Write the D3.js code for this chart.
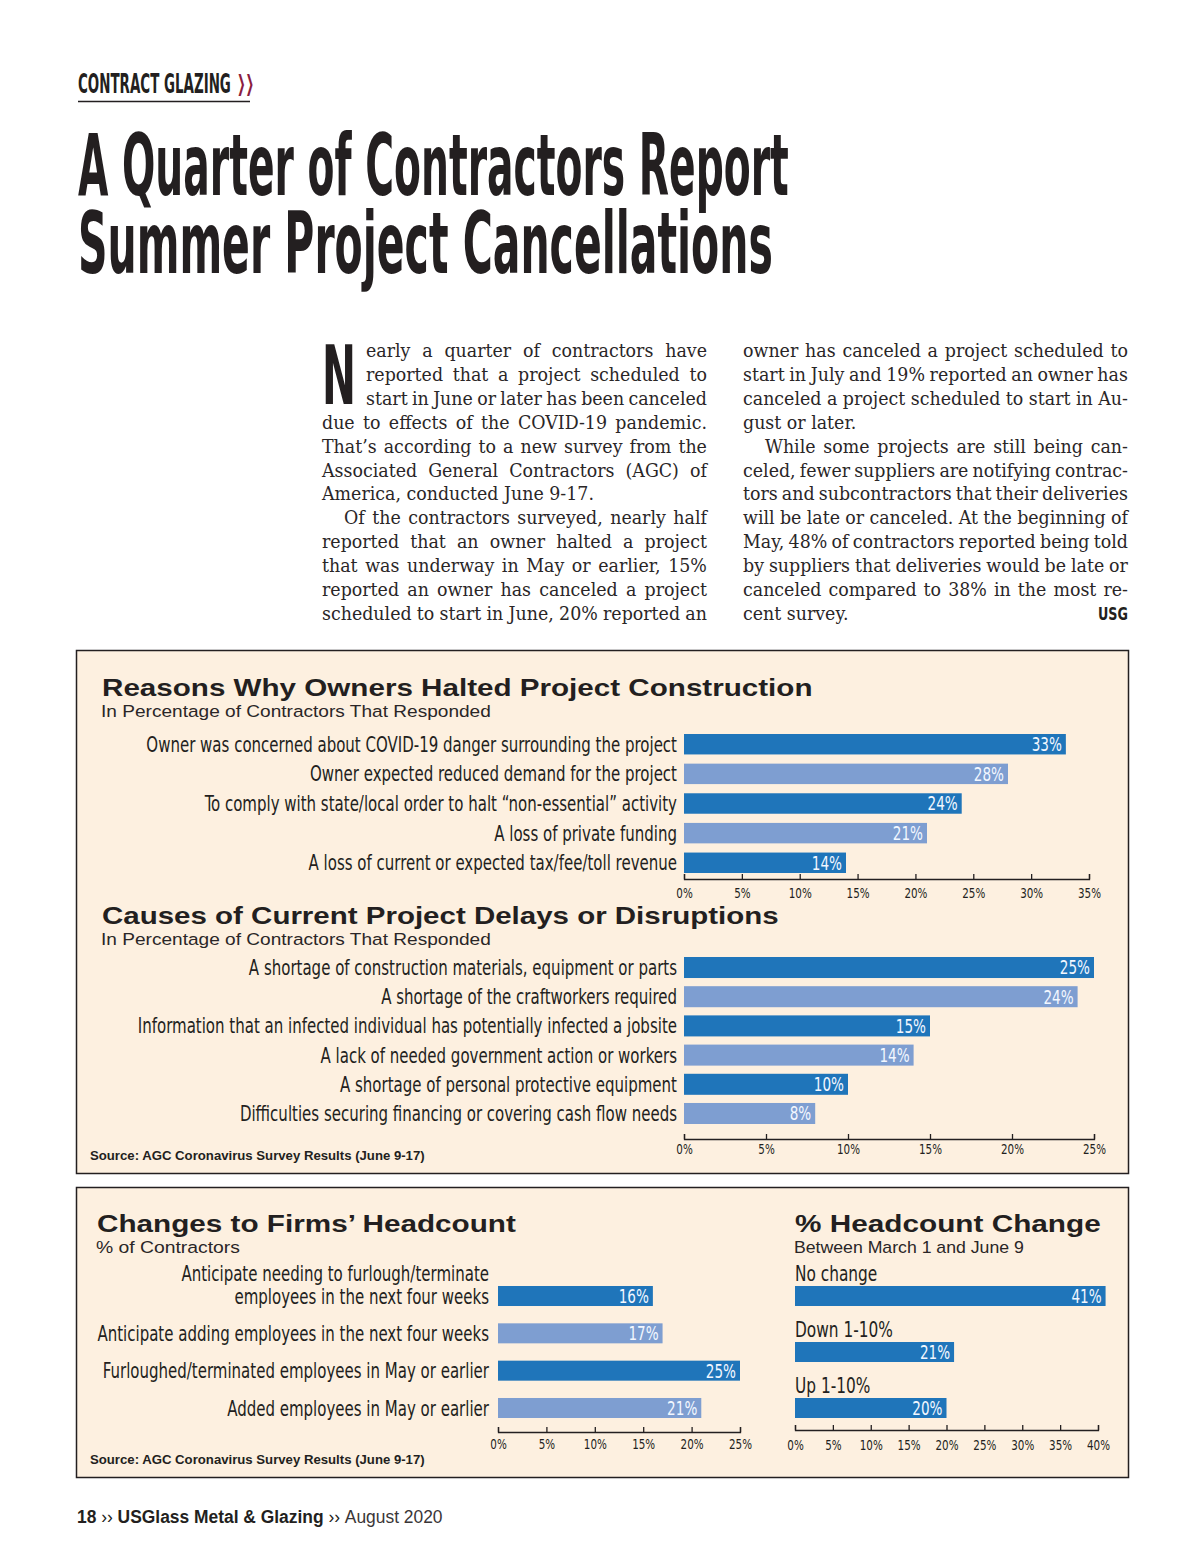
<!DOCTYPE html>
<html><head><meta charset="utf-8">
<script src="https://cdn.jsdelivr.net/npm/d3@7"></script>
<style>body{margin:0;background:#fff}svg{display:block}</style>
</head><body>
<svg id="c" width="1200" height="1558"></svg>
<script>
// ---------- DATA ----------
const reasonsCats = [
  "Owner was concerned about COVID-19 danger surrounding the project",
  "Owner expected reduced demand for the project",
  "To comply with state/local order to halt \u201cnon-essential\u201d activity",
  "A loss of private funding",
  "A loss of current or expected tax/fee/toll revenue"];
const reasonsVals = [33, 28, 24, 21, 14];
const reasonsTicks = [0, 5, 10, 15, 20, 25, 30, 35];

const delaysCats = [
  "A shortage of construction materials, equipment or parts",
  "A shortage of the craftworkers required",
  "Information that an infected individual has potentially infected a jobsite",
  "A lack of needed government action or workers",
  "A shortage of personal protective equipment",
  "Difficulties securing financing or covering cash flow needs"];
const delaysVals = [25, 24, 15, 14, 10, 8];
const delaysTicks = [0, 5, 10, 15, 20, 25];

const headCats = [
  "Anticipate needing to furlough/terminate\nemployees in the next four weeks",
  "Anticipate adding employees in the next four weeks",
  "Furloughed/terminated employees in May or earlier",
  "Added employees in May or earlier"];
const headVals = [16, 17, 25, 21];
const headTicks = [0, 5, 10, 15, 20, 25];

const changeCats = ["No change", "Down 1-10%", "Up 1-10%"];
const changeVals = [41, 21, 20];
const changeTicks = [0, 5, 10, 15, 20, 25, 30, 35, 40];

const bodyCol1 = [
  {t:"early a quarter of contractors have", j:1, x:366},
  {t:"reported that a project scheduled to", j:1, x:366},
  {t:"start in June or later has been canceled", j:1, x:366},
  {t:"due to effects of the COVID-19 pandemic.", j:1},
  {t:"That\u2019s according to a new survey from the", j:1},
  {t:"Associated General Contractors (AGC) of", j:1},
  {t:"America, conducted June 9-17.", j:0},
  {t:"Of the contractors surveyed, nearly half", j:1, x:344},
  {t:"reported that an owner halted a project", j:1},
  {t:"that was underway in May or earlier, 15%", j:1},
  {t:"reported an owner has canceled a project", j:1},
  {t:"scheduled to start in June, 20% reported an", j:1}];
const bodyCol2 = [
  {t:"owner has canceled a project scheduled to", j:1},
  {t:"start in July and 19% reported an owner has", j:1},
  {t:"canceled a project scheduled to start in Au-", j:1},
  {t:"gust or later.", j:0},
  {t:"While some projects are still being can-", j:1, x:765},
  {t:"celed, fewer suppliers are notifying contrac-", j:1},
  {t:"tors and subcontractors that their deliveries", j:1},
  {t:"will be late or canceled. At the beginning of", j:1},
  {t:"May, 48% of contractors reported being told", j:1},
  {t:"by suppliers that deliveries would be late or", j:1},
  {t:"canceled compared to 38% in the most re-", j:1},
  {t:"cent survey.", j:0}];

// ---------- STYLE ----------
const INK = "#231f20", DARK = "#1f75ba", LIGHT = "#7e9ed1", CREAM = "#fdf0e0", RED = "#8b1d3f";
const COND = "'Liberation Sans Narrow','DejaVu Sans Condensed','Roboto Condensed',Roboto,sans-serif";
const SANS = "'Liberation Sans',Arial,Helvetica,sans-serif";
const SERIF = "'DejaVu Serif','Liberation Serif',serif";

const svg = d3.select("#c");

function measure(str, family, size, weight) {
  const t = svg.append("text").attr("font-family", family).attr("font-size", size)
    .attr("font-weight", weight || "normal").text(str);
  const w = t.node().getComputedTextLength(); t.remove(); return w;
}
function label(parent, str, x, y, o) {
  const g = parent.append("g");
  const t = g.append("text").text(str).attr("font-family", o.family).attr("font-size", o.size)
    .attr("font-weight", o.weight || "normal").attr("text-anchor", o.anchor || "start")
    .attr("fill", o.fill || INK).attr("dy", o.dy || 0);
  let k = o.k || 1;
  if (o.width) k = o.width / t.node().getComputedTextLength();
  g.attr("transform", `translate(${x},${y}) scale(${k},1)`);
  return g;
}

// condensed factor derived from the reference label width
const kc = 531 / measure(reasonsCats[0], COND, 21);

// ---------- HEADER ----------
label(svg, "CONTRACT GLAZING", 78, 83, {family: COND, size: 27, weight: "bold", width: 153, dy: "0.36em"});
label(svg, "\u276F\u276F", 237, 83, {family: "'DejaVu Sans',sans-serif", size: 22, weight: "bold", width: 17, fill: RED, dy: "0.36em"});
svg.append("line").attr("x1", 78).attr("x2", 250).attr("y1", 101.5).attr("y2", 101.5).attr("stroke", INK).attr("stroke-width", 1.5);

label(svg, "A Quarter of Contractors Report", 78, 195, {family: COND, size: 86, weight: "bold", width: 711});
label(svg, "Summer Project Cancellations", 78, 273, {family: COND, size: 86, weight: "bold", width: 695});

// ---------- BODY ----------
label(svg, "N", 322, 404, {family: COND, size: 82, weight: "bold", width: 34});
const BS = 18.4;
const kb = 272 / measure("America, conducted June 9-17.", SERIF, BS);
function bodyCol(lines, left, right) {
  lines.forEach((ln, i) => {
    const x = ln.x || left, y = 357 + i * 23.9;
    const g = svg.append("g");
    const t = g.append("text").text(ln.t).attr("font-family", SERIF).attr("font-size", BS).attr("fill", "#2a2627");
    let k = kb;
    if (ln.j) {
      const w = t.node().getComputedTextLength();
      const n = (ln.t.match(/ /g) || []).length;
      const avail = (right - x) / kb;
      let ws = (avail - w) / n;
      if (ws < -2.5) { ws = -2.5; k = (right - x) / (w + n * ws); }
      t.style("word-spacing", ws + "px");
    }
    g.attr("transform", `translate(${x},${y}) scale(${k},1)`);
  });
}
bodyCol(bodyCol1, 322, 707);
bodyCol(bodyCol2, 743, 1128);
label(svg, "USG", 1128, 620, {family: COND, size: 18, weight: "bold", anchor: "end", width: 30});

// ---------- BOXES ----------
svg.append("rect").attr("x", 76.5).attr("y", 650.5).attr("width", 1052).attr("height", 523)
  .attr("fill", CREAM).attr("stroke", INK).attr("stroke-width", 1.5);
svg.append("rect").attr("x", 76.5).attr("y", 1187.5).attr("width", 1052).attr("height", 290)
  .attr("fill", CREAM).attr("stroke", INK).attr("stroke-width", 1.5);

function titles(x, y, title, tw, sub, sw) {
  label(svg, title, x, y, {family: SANS, size: 24, weight: "bold", width: tw, dy: "0.36em"});
  label(svg, sub, x - 1, y + 24, {family: SANS, size: 17, width: sw, dy: "0.36em", fill: "#2a2627"});
}
titles(102, 687, "Reasons Why Owners Halted Project Construction", 711, "In Percentage of Contractors That Responded", 390);
titles(102, 915, "Causes of Current Project Delays or Disruptions", 677, "In Percentage of Contractors That Responded", 390);
titles(97, 1223, "Changes to Firms\u2019 Headcount", 419, "% of Contractors", 144);
titles(795, 1223, "% Headcount Change", 306, "Between March 1 and June 9", 230);

// ---------- BAR CHARTS ----------
function hbar(c) {
  const x = d3.scaleLinear().domain([0, c.max]).range([c.x0, c.x1]);
  const y = d3.scaleBand().domain(c.cats).range([c.yTop, c.yBot]).paddingInner(c.pad).paddingOuter(0);
  const g = svg.append("g");
  g.selectAll("rect").data(c.vals).join("rect")
    .attr("x", x(0)).attr("y", (d, i) => y(c.cats[i]))
    .attr("width", d => x(d) - x(0)).attr("height", y.bandwidth())
    .attr("fill", (d, i) => c.allDark ? DARK : (i % 2 ? LIGHT : DARK));
  c.vals.forEach((v, i) => label(g, v + "%", x(v) - 4, y(c.cats[i]) + y.bandwidth() / 2,
    {family: COND, size: 19, anchor: "end", fill: "#f2f7ff", k: kc, dy: "0.36em"}));
  c.cats.forEach((cat, i) => {
    const parts = cat.split("\n");
    parts.forEach((p, j) => {
      if (c.above) {
        label(g, p, x(0), y(cat) - 13, {family: COND, size: 21.5, k: kc, dy: "0.36em"});
      } else {
        const cy = y(cat) + y.bandwidth() / 2 - (parts.length - 1 - j) * 23;
        label(g, p, x(0) - c.gap, cy, {family: COND, size: 21, anchor: "end", k: kc, dy: "0.36em"});
      }
    });
  });
  const ax = g.append("g").attr("transform", `translate(0,${c.axisY})`)
    .call(d3.axisBottom(x).tickValues(c.ticks).tickFormat(d => d + "%").tickSizeInner(-5).tickSizeOuter(-5));
  ax.select(".domain").attr("stroke", INK).attr("stroke-width", 1.3);
  ax.selectAll(".tick line").attr("stroke", INK).attr("stroke-width", 1.3);
  ax.selectAll(".tick text").attr("font-family", COND).attr("font-size", 14.5).attr("fill", INK)
    .attr("y", c.tickOff).attr("dy", "0.36em").attr("transform", `scale(${kc},1)`);
}
hbar({cats: reasonsCats, vals: reasonsVals, ticks: reasonsTicks, max: 35, x0: 684, x1: 1089,
  yTop: 734, yBot: 873, pad: 0.31, axisY: 879, tickOff: 14, gap: 7});
hbar({cats: delaysCats, vals: delaysVals, ticks: delaysTicks, max: 25, x0: 684, x1: 1094,
  yTop: 957, yBot: 1124, pad: 0.28, axisY: 1139, tickOff: 10, gap: 7});
hbar({cats: headCats, vals: headVals, ticks: headTicks, max: 25, x0: 498, x1: 740,
  yTop: 1286, yBot: 1418, pad: 0.464, axisY: 1432, tickOff: 12, gap: 9});
hbar({cats: changeCats, vals: changeVals, ticks: changeTicks, max: 40, x0: 795, x1: 1098,
  yTop: 1286, yBot: 1418, pad: 0.643, axisY: 1430, tickOff: 15, above: true, allDark: true});

// ---------- SOURCES & FOOTER ----------
label(svg, "Source: AGC Coronavirus Survey Results (June 9-17)", 90, 1155, {family: SANS, size: 13.5, weight: "bold", width: 335, dy: "0.36em"});
label(svg, "Source: AGC Coronavirus Survey Results (June 9-17)", 90, 1459, {family: SANS, size: 13.5, weight: "bold", width: 335, dy: "0.36em"});

const fg = svg.append("g");
const ft = fg.append("text").attr("font-family", SANS).attr("font-size", 17.5).attr("fill", INK).attr("dy", "0.36em");
ft.append("tspan").attr("font-weight", "bold").text("18 ");
ft.append("tspan").text("\u203A\u203A ");
ft.append("tspan").attr("font-weight", "bold").text("USGlass Metal & Glazing ");
ft.append("tspan").text("\u203A\u203A ");
ft.append("tspan").attr("fill", "#3a3637").text("August 2020");
fg.attr("transform", `translate(77,1517) scale(${365 / ft.node().getComputedTextLength()},1)`);
</script>
</body></html>
